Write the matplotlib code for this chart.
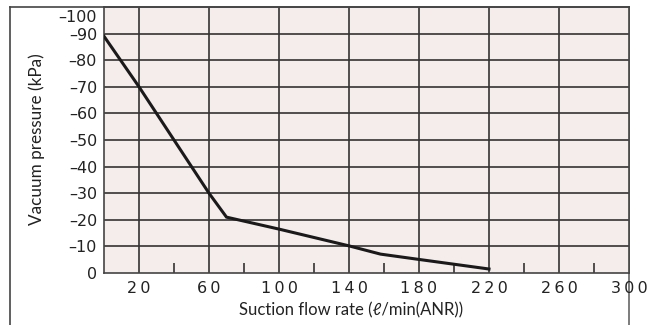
import matplotlib
matplotlib.use('Agg')
import matplotlib.pyplot as plt
from matplotlib.lines import Line2D
from matplotlib.transforms import ScaledTranslation

# Flow characteristic
flow = [0, 20, 60, 70, 100, 140, 158, 180, 220]
vacuum = [-89, -70, -30, -21, -16.5, -10.2, -7.1, -5.1, -1.5]

x_ticks = [20, 60, 100, 140, 180, 220, 260, 300]
x_minor = [40, 80, 120, 160, 200, 240, 280]
y_ticks = [0, -10, -20, -30, -40, -50, -60, -70, -80, -90, -100]

W, H = 666, 325
fams = ['Lato', 'DejaVu Sans']
tick_fams = ['DejaVu Sans']
plt.rcParams['font.family'] = fams

fig = plt.figure(figsize=(W / 100, H / 100), dpi=100)
ax = fig.add_axes([104 / W, (H - 273) / H, 525 / W, 266 / H])
ax.set_facecolor('#f5edeb')

# 0 at the bottom, -100 at the top
ax.set_xlim(0, 300)
ax.set_ylim(0, -100)

# grid
for x in x_ticks[:-1]:
    ax.axvline(x, color='#333333', lw=1.2, zorder=1)
for y in y_ticks[1:-1]:
    ax.axhline(y, color='#333333', lw=1.2, zorder=1)

ax.plot(flow, vacuum, color='#1a1a1a', lw=2.2, zorder=3, solid_joinstyle='miter')

ax.set_xticks(x_ticks)
ax.set_xticklabels(['\u2009'.join(str(v)) for v in x_ticks], fontsize=11.5, color='#222222',
                   family=tick_fams)
ax.set_xticks(x_minor, minor=True)
ax.tick_params(axis='x', which='major', length=0, pad=6)
ax.tick_params(axis='x', which='minor', direction='in', length=7, width=1.2, color='#333333')

ax.set_yticks(y_ticks)
ax.set_yticklabels([('\u2013' + str(-v)) if v else '0' for v in y_ticks], fontsize=11.5,
                   color='#222222', family=tick_fams)
ax.tick_params(axis='y', length=0, pad=5)

# the -100 label sits a little below the top edge
top_lbl = ax.get_yticklabels()[-1]
top_lbl.set_transform(top_lbl.get_transform() + ScaledTranslation(0, -0.09, fig.dpi_scale_trans))

for s in ax.spines.values():
    s.set_color('#444444')
    s.set_linewidth(1.2)

fig.text(37 / W, 1 - 139 / H, 'Vacuum pressure (kPa)', rotation=90, ha='center', va='center',
         fontsize=12.3, color='#222222', family=fams)
fig.text(351 / W, 1 - 310 / H, 'Suction flow rate (\u2113/min(ANR))', ha='center', va='center',
         fontsize=12, color='#222222', family=fams)

# outer frame of the figure panel
fig.add_artist(Line2D([10 / W, 10 / W], [0, 1 - 7 / H], color='#444444', lw=1.2))
fig.add_artist(Line2D([10 / W, 629 / W], [1 - 7 / H, 1 - 7 / H], color='#444444', lw=1.2))
fig.add_artist(Line2D([629 / W, 629 / W], [0, 1 - 7 / H], color='#666666', lw=1.2, zorder=0))

fig.savefig('out.png', dpi=100)
